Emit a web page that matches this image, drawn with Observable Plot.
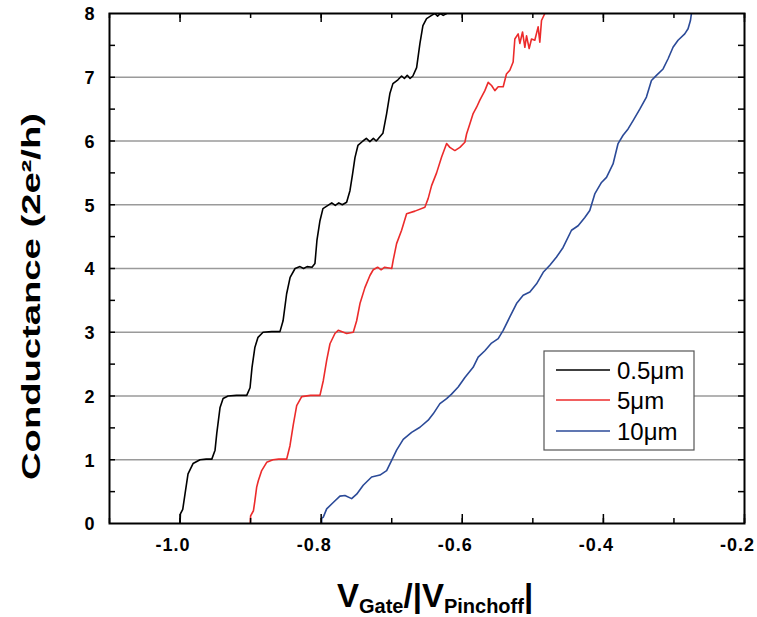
<!DOCTYPE html>
<html><head><meta charset="utf-8">
<script src="https://cdn.jsdelivr.net/npm/d3@7"></script>
<script src="https://cdn.jsdelivr.net/npm/@observablehq/plot@0.6"></script>
<style>body{margin:0;background:#fff}</style>
</head><body><div id="chart"></div>
<script>
// ---- data ----
const seriesNames = ["0.5μm", "5μm", "10μm"];
const seriesColors = ["#000000", "#ec2b2b", "#2b4a98"];

// [V_gate/|V_pinchoff|, conductance (2e^2/h)]
const curve05 = [[-1.000,0],[-0.9995,0.15],[-0.9962,0.22],[-0.9929,0.47],[-0.9887,0.78],[-0.9816,0.94],[-0.9717,1.0],[-0.963,1.01],[-0.955,1.01],[-0.9504,1.15],[-0.948,1.41],[-0.9433,1.82],[-0.939,1.96],[-0.932,2.0],[-0.92,2.01],[-0.9055,2.01],[-0.9008,2.13],[-0.898,2.45],[-0.894,2.76],[-0.8895,2.92],[-0.8824,3.0],[-0.87,3.01],[-0.8584,3.01],[-0.854,3.18],[-0.849,3.6],[-0.844,3.86],[-0.837,4.0],[-0.83,4.03],[-0.825,4.0],[-0.82,4.03],[-0.813,4.02],[-0.8088,4.08],[-0.806,4.44],[-0.8017,4.75],[-0.7975,4.94],[-0.7904,4.99],[-0.785,5.03],[-0.78,4.99],[-0.775,5.03],[-0.77,5.0],[-0.7639,5.04],[-0.7592,5.22],[-0.7554,5.49],[-0.7521,5.74],[-0.7479,5.93],[-0.7408,6.0],[-0.736,6.04],[-0.731,5.99],[-0.726,6.04],[-0.722,6.0],[-0.7195,6.03],[-0.7125,6.12],[-0.7072,6.43],[-0.7025,6.75],[-0.6983,6.9],[-0.6912,6.96],[-0.686,7.02],[-0.682,6.98],[-0.678,7.03],[-0.674,6.98],[-0.67,7.02],[-0.6647,7.15],[-0.66,7.53],[-0.6558,7.81],[-0.6506,7.92],[-0.6435,7.97],[-0.639,8.0],[-0.635,7.96],[-0.631,8.0],[-0.627,7.97],[-0.6222,8.0]];

const curve5 = [[-0.9005,0],[-0.9,0.12],[-0.896,0.2],[-0.894,0.35],[-0.8914,0.57],[-0.8891,0.67],[-0.8843,0.83],[-0.8772,0.96],[-0.8683,1.0],[-0.86,1.01],[-0.8489,1.01],[-0.8442,1.22],[-0.8395,1.55],[-0.8347,1.85],[-0.8276,1.99],[-0.815,2.01],[-0.8017,2.01],[-0.797,2.24],[-0.7922,2.56],[-0.7875,2.82],[-0.7805,2.98],[-0.7758,3.03],[-0.7639,2.98],[-0.7545,3.0],[-0.7497,3.18],[-0.745,3.45],[-0.738,3.7],[-0.7309,3.89],[-0.7262,3.98],[-0.72,4.02],[-0.715,3.98],[-0.71,4.02],[-0.7,4.0],[-0.6979,4.13],[-0.6931,4.39],[-0.686,4.6],[-0.6789,4.86],[-0.6671,4.9],[-0.653,4.96],[-0.6483,5.1],[-0.6435,5.3],[-0.6364,5.5],[-0.6293,5.75],[-0.6222,5.96],[-0.6176,5.9],[-0.6105,5.85],[-0.6034,5.9],[-0.5963,5.98],[-0.5939,6.11],[-0.5892,6.27],[-0.5846,6.43],[-0.5797,6.53],[-0.5751,6.64],[-0.568,6.79],[-0.5633,6.92],[-0.5585,6.87],[-0.5538,6.79],[-0.5491,6.85],[-0.542,6.85],[-0.5374,7.05],[-0.5326,7.11],[-0.5279,7.24],[-0.5255,7.6],[-0.5208,7.68],[-0.5184,7.53],[-0.5146,7.71],[-0.5113,7.47],[-0.5089,7.65],[-0.5052,7.45],[-0.5019,7.6],[-0.4972,7.58],[-0.4925,7.79],[-0.4901,7.55],[-0.4877,7.89],[-0.483,8.0]];

const curve10 = [[-0.7993,0],[-0.7993,0.08],[-0.797,0.1],[-0.7922,0.23],[-0.7829,0.33],[-0.7734,0.43],[-0.7663,0.44],[-0.7568,0.39],[-0.7497,0.46],[-0.7404,0.6],[-0.7285,0.73],[-0.7167,0.76],[-0.7072,0.83],[-0.7001,0.99],[-0.6931,1.15],[-0.6837,1.32],[-0.6718,1.43],[-0.66,1.51],[-0.6483,1.62],[-0.6412,1.72],[-0.6317,1.88],[-0.6222,1.96],[-0.6152,2.03],[-0.6058,2.14],[-0.5963,2.29],[-0.5846,2.45],[-0.5775,2.61],[-0.568,2.71],[-0.5585,2.83],[-0.5491,2.9],[-0.542,3.03],[-0.5326,3.24],[-0.5231,3.45],[-0.5137,3.58],[-0.5042,3.63],[-0.4947,3.76],[-0.4853,3.94],[-0.4759,4.05],[-0.4664,4.18],[-0.4571,4.33],[-0.4452,4.6],[-0.4358,4.67],[-0.4263,4.8],[-0.4193,4.91],[-0.4122,5.17],[-0.4027,5.35],[-0.3956,5.43],[-0.3863,5.64],[-0.3792,5.96],[-0.3721,6.09],[-0.365,6.19],[-0.3579,6.32],[-0.3484,6.5],[-0.339,6.69],[-0.3319,6.95],[-0.3248,7.03],[-0.3154,7.13],[-0.3083,7.29],[-0.3013,7.47],[-0.2942,7.58],[-0.2847,7.68],[-0.28,7.76],[-0.2766,7.89],[-0.2752,8.0]];

const xTickValues = [-1.0, -0.8, -0.6, -0.4, -0.2];
const xMinorValues = [-1.1, -1.0, -0.9, -0.8, -0.7, -0.6, -0.5, -0.4, -0.3, -0.2];
const yTickValues = [0, 1, 2, 3, 4, 5, 6, 7, 8];
const yHalfValues = [0.5, 1, 1.5, 2, 2.5, 3, 3.5, 4, 4.5, 5, 5.5, 6, 6.5, 7, 7.5];
const gridLevels = [1, 2, 3, 4, 5, 6, 7];
const yTitle = "Conductance (2e²/h)";

// ---- build table ----
const curves = [curve05, curve5, curve10];
const table = curves.flatMap((c, i) => c.map(([v, g]) => ({series: seriesNames[i], v, g})));

const W = 757, H = 617;
const mT = 13, mR = 13, mB = 94, mL = 109;
const fw = W - mL - mR, fh = H - mT - mB;
const FONT = "'Liberation Sans', Arial, sans-serif";

const plot = Plot.plot({
  width: W, height: H,
  marginTop: mT, marginRight: mR, marginBottom: mB, marginLeft: mL,
  style: {fontFamily: FONT, background: "#fff", color: "#000"},
  x: {domain: [-1.1, -0.2]},
  y: {domain: [0, 8]},
  color: {domain: seriesNames, range: seriesColors},
  marks: [
    Plot.ruleY(gridLevels, {stroke: "#9a9a9a", strokeWidth: 1.6}),
    Plot.line(table, {x: "v", y: "g", z: "series", stroke: "series", strokeWidth: 1.6, clip: true}),
    // inward ticks
    Plot.tickX(xMinorValues, {x: d => d, insetTop: fh - 5, stroke: "#000", strokeWidth: 1.5}),
    Plot.tickX(xTickValues, {x: d => d, insetTop: fh - 9, stroke: "#000", strokeWidth: 1.5}),
    Plot.tickX(xMinorValues, {x: d => d, insetBottom: fh - 5, stroke: "#000", strokeWidth: 1.5}),
    Plot.tickX(xTickValues, {x: d => d, insetBottom: fh - 9, stroke: "#000", strokeWidth: 1.5}),
    Plot.tickY(yHalfValues, {y: d => d, insetRight: fw - 6, stroke: "#000", strokeWidth: 1.5}),
    Plot.tickY(yHalfValues, {y: d => d, insetLeft: fw - 6, stroke: "#000", strokeWidth: 1.5}),
    Plot.frame({stroke: "#000", strokeWidth: 2}),
    Plot.axisX({ticks: xTickValues, tickFormat: d => d.toFixed(1), tickSize: 0, tickPadding: 15, dx: -7,
      fontSize: 18, fontWeight: "bold", label: null}),
    Plot.axisY({ticks: yTickValues, tickFormat: d => String(d), tickSize: 0, tickPadding: 15, dy: 1,
      fontSize: 18, fontWeight: "bold", label: null})
  ]
});

document.getElementById("chart").appendChild(plot);
const svg = d3.select(plot);
svg.selectAll("g[aria-label='x-axis tick label'] text").attr("letter-spacing", 1);

// y-axis title
svg.append("text")
  .attr("transform", `translate(40,${(113 + 480) / 2}) rotate(-90)`)
  .attr("text-anchor", "middle")
  .attr("font-family", FONT)
  .attr("font-weight", "bold")
  .attr("font-size", 26)
  .attr("textLength", 367)
  .attr("lengthAdjust", "spacingAndGlyphs")
  .attr("fill", "#000")
  .text(yTitle);

// x-axis title with subscripts
const xt = svg.append("text")
  .attr("x", 337).attr("y", 607)
  .attr("text-anchor", "start")
  .attr("font-family", FONT)
  .attr("font-weight", "bold")
  .attr("font-size", 33)
  .attr("fill", "#000");
xt.append("tspan").text("V");
xt.append("tspan").attr("font-size", 20).attr("dy", 6).text("Gate");
xt.append("tspan").attr("dy", -6).text("/|V");
xt.append("tspan").attr("font-size", 20).attr("dy", 6).text("Pinchoff");
xt.append("tspan").attr("dy", -6).text("|");

// legend
const lg = svg.append("g");
lg.append("rect").attr("x", 544).attr("y", 351).attr("width", 150).attr("height", 99)
  .attr("fill", "#fff").attr("stroke", "#555").attr("stroke-width", 1.2);
const rowsY = [370, 400, 431];
seriesNames.forEach((name, i) => {
  lg.append("line").attr("x1", 556).attr("x2", 610).attr("y1", rowsY[i]).attr("y2", rowsY[i])
    .attr("stroke", seriesColors[i]).attr("stroke-width", 1.6);
  lg.append("text").attr("x", 617).attr("y", rowsY[i] + 9)
    .attr("text-anchor", "start")
    .attr("font-family", FONT)
    .attr("font-size", 24).attr("fill", "#000").text(name);
});
</script>
</body></html>
